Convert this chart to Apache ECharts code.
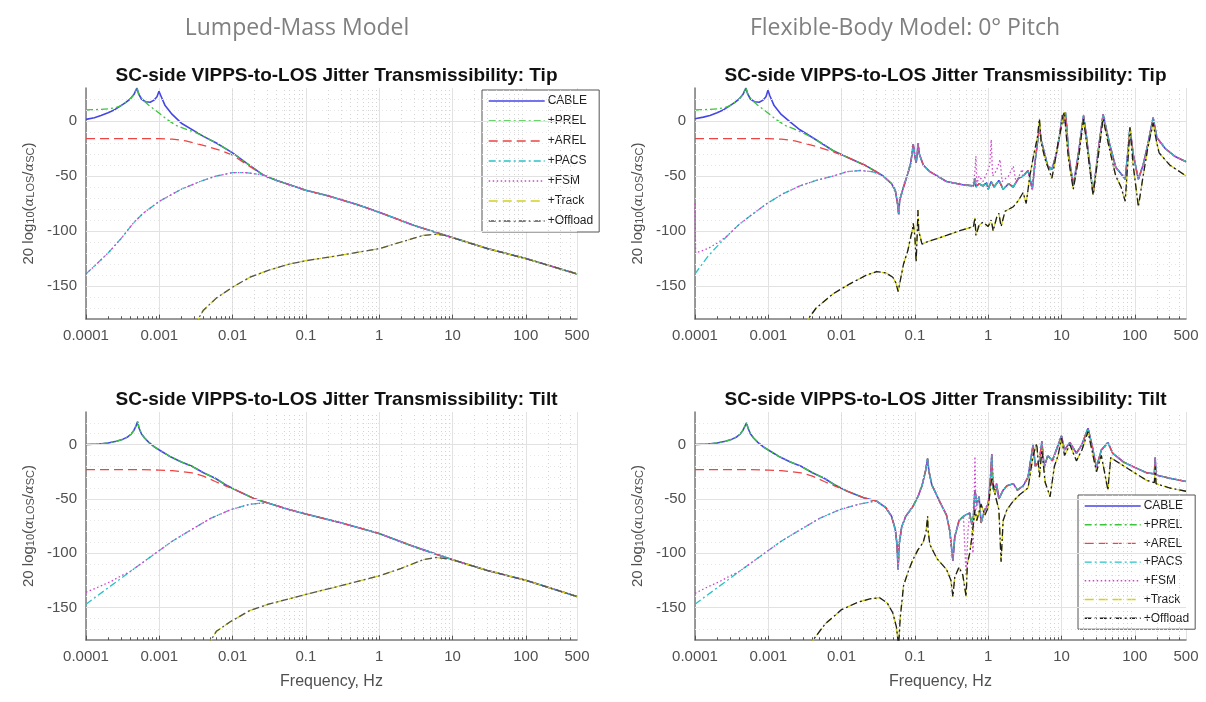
<!DOCTYPE html>
<html><head><meta charset="utf-8">
<script src="https://cdn.jsdelivr.net/npm/echarts@6/dist/echarts.min.js"></script>
<style>html,body{margin:0;padding:0;background:#fff}#c{width:1206px;height:702px}</style>
</head><body><div id="c"></div>
<script>
// ---------------- data (frequency Hz, dB) ----------------
const seriesNames = ['CABLE', '+PREL', '+AREL', '+PACS', '+FSM', '+Track', '+Offload'];
const yTicks = [-150, -100, -50, 0];
const xMin = 1e-4, xMax = 500, yMin = -180, yMax = 30;
const bigTitles = ['Lumped-Mass Model', 'Flexible-Body Model: 0\u00B0 Pitch'];
const plotTitles = ['SC-side VIPPS-to-LOS Jitter Transmissibility: Tip', 'SC-side VIPPS-to-LOS Jitter Transmissibility: Tip',
  'SC-side VIPPS-to-LOS Jitter Transmissibility: Tilt', 'SC-side VIPPS-to-LOS Jitter Transmissibility: Tilt'];

// Top-left: lumped-mass, tip
const tlCable = [[1e-4,1.5],[1.3e-4,3],[1.6e-4,5],[2e-4,7.5],[2.5e-4,10.5],[3e-4,14],[3.5e-4,17],[4e-4,20],[4.5e-4,24],[4.8e-4,28],[4.95e-4,30],[5.2e-4,25],[5.7e-4,20],[6.5e-4,17.5],[7.5e-4,17],[8.5e-4,19],[9.3e-4,22],[9.9e-4,27],[1.05e-3,23],[1.2e-3,14],[1.5e-3,6],[2e-3,-2],[3e-3,-9],[4e-3,-14],[6e-3,-20],[0.01,-29],[0.016,-39],[0.026,-49],[0.04,-54],[0.06,-58],[0.1,-63],[0.2,-68],[0.5,-76],[1,-83],[3,-95],[10,-106],[30,-116],[100,-125],[500,-139]];
const tlPrelLow = [[1e-4,10],[1.5e-4,10.5],[2e-4,11],[2.5e-4,12],[3e-4,14],[3.5e-4,17],[4e-4,20],[4.5e-4,24],[4.8e-4,28],[4.95e-4,30],[5.3e-4,24],[6e-4,19],[7e-4,15],[8e-4,12],[1e-3,7],[1.3e-3,1],[1.7e-3,-4],[2.2e-3,-7],[3e-3,-10],[4e-3,-14]];
const tlArelLow = [[1e-4,-16],[3e-4,-16],[1e-3,-16],[1.5e-3,-16.5],[2.3e-3,-18],[3e-3,-20],[4.4e-3,-23],[7e-3,-27],[0.01,-31],[0.016,-40]];
const tlPacsLow = [[1e-4,-139],[1.5e-4,-128],[2e-4,-120],[3e-4,-107],[4.4e-4,-93],[6e-4,-84],[1e-3,-73],[2e-3,-62],[3.6e-3,-55],[6e-3,-50],[0.01,-47],[0.015,-47],[0.02,-48]];
const tlLowerLow = [[3e-3,-186],[4e-3,-172],[6e-3,-161],[0.01,-151],[0.0173,-142],[0.03,-136],[0.06,-130],[0.1,-127],[0.3,-122],[1,-116],[2,-110],[4,-104],[6,-103],[8,-104]];

// Bottom-left: lumped-mass, tilt
const blCable = [[1e-4,0],[1.5e-4,0.5],[2e-4,1.5],[2.6e-4,3],[3.2e-4,5],[3.7e-4,7],[4.1e-4,9.5],[4.5e-4,13],[4.8e-4,17],[5.05e-4,21],[5.3e-4,15],[5.7e-4,10],[6.3e-4,6],[7.2e-4,2],[8.5e-4,-2],[1e-3,-5],[1.4e-3,-11],[2e-3,-16],[2.8e-3,-20],[4e-3,-26],[5.8e-3,-31],[8e-3,-37],[0.012,-43],[0.02,-50],[0.031,-54],[0.06,-60],[0.1,-64],[0.3,-72],[1,-82],[3,-94],[10,-106],[30,-116],[100,-125],[500,-140]];
const blArelLow = [[1e-4,-23],[5e-4,-23],[1e-3,-23.5],[1.5e-3,-24],[2.8e-3,-26],[4e-3,-29],[5.8e-3,-34],[8e-3,-38]];
const blPacsLow = [[1e-4,-147],[2e-4,-132],[4e-4,-117],[8.5e-4,-101],[1.5e-3,-89],[2.8e-3,-78],[5e-3,-68],[9.4e-3,-60],[0.017,-55],[0.024,-54]];
const blFsmLow = [[1e-4,-136],[1.5e-4,-131],[2.2e-4,-126],[3e-4,-121],[4e-4,-117]];
const blLowerLow = [[4.5e-3,-186],[6e-3,-172],[9.4e-3,-163],[0.017,-153],[0.031,-147],[0.1,-138],[0.3,-130],[1,-121],[2,-114],[4,-106],[6,-104],[8,-105]];

// Top-right: flexible body, tip
const trCableA = [[1e-4,2],[1.3e-4,3.5],[1.6e-4,5],[2e-4,7.5],[2.5e-4,10.5],[3e-4,14],[3.5e-4,17],[4e-4,20],[4.5e-4,24],[4.8e-4,28],[4.95e-4,30],[5.2e-4,25],[5.7e-4,20],[6.5e-4,17.5],[7.5e-4,17],[8.5e-4,19],[9.3e-4,22],[9.9e-4,28],[1.05e-3,23],[1.2e-3,14],[1.5e-3,6],[2e-3,-1],[2.7e-3,-8],[4e-3,-15],[7.7e-3,-27],[0.013,-34],[0.022,-41]];
const trPrelA = [[1e-4,10],[1.5e-4,10.5],[2e-4,11],[2.5e-4,12],[3e-4,14],[3.5e-4,17],[4e-4,20],[4.5e-4,24],[4.8e-4,28],[4.95e-4,30],[5.3e-4,24],[6e-4,19],[7e-4,15],[8e-4,12],[1e-3,7],[1.3e-3,1],[1.7e-3,-4],[2.2e-3,-7],[3e-3,-11],[4e-3,-15],[7.7e-3,-27],[0.013,-34],[0.022,-41]];
const trArelA = [[1e-4,-16],[1e-3,-16],[1.5e-3,-16.5],[2.3e-3,-18],[3e-3,-20],[4.4e-3,-23],[7.7e-3,-28],[0.013,-34],[0.022,-41]];
const trPacsA = [[1e-4,-139],[1.5e-4,-123],[2e-4,-114],[2.7e-4,-105],[4e-4,-94],[6e-4,-85],[9.6e-4,-75],[1.6e-3,-66],[2.7e-3,-59],[4.5e-3,-54],[7.7e-3,-50],[0.012,-46],[0.018,-45],[0.026,-46],[0.032,-48]];
const trFsmA = [[1e-4,-75],[1.02e-4,-120],[1.5e-4,-116],[2e-4,-111],[2.7e-4,-105]];
const trUpperB = [[0.037,-50],[0.048,-57],[0.054,-63],[0.058,-75],[0.06,-85],[0.062,-72],[0.07,-60],[0.08,-48],[0.088,-38],[0.095,-21],[0.1,-32],[0.104,-38],[0.108,-30],[0.11,-20],[0.115,-30],[0.13,-40],[0.16,-46],[0.27,-55],[0.45,-58]];
const trUpperC = [[0.63,-59],[0.66,-52],[0.68,-60],[0.75,-57],[0.85,-59],[0.95,-56],[1.0,-62],[1.1,-55],[1.2,-60],[1.4,-54],[1.6,-62],[1.9,-57],[2.2,-60],[2.6,-52]];
const trFsmC = [[0.63,-59],[0.66,-45],[0.68,-32],[0.7,-58],[0.75,-50],[0.85,-55],[0.95,-48],[1.05,-40],[1.1,-17],[1.15,-50],[1.3,-45],[1.45,-35],[1.55,-55],[1.9,-50],[2.2,-41],[2.4,-56],[2.9,-44]];
const trUpperD = [[3,-50],[3.5,-45],[4,-62],[4.4,-35],[4.8,-15],[5,-5],[5.3,-18],[5.8,-28],[6.5,-41],[7.4,-44],[8.5,-30],[9.5,-12],[10.2,5],[10.7,-2],[11.3,8],[11.8,-5],[12.5,-30],[14.5,-59],[17,-30],[20,5],[22,-15],[27,-67],[32,-25],[37,6],[45,-20],[55,-42],[65,-48],[74,-53],[80,-30],[86,-6],[95,-30],[112,-53],[130,-40],[150,-22],[178,3],[200,-15],[260,-25],[350,-32],[500,-37]];
const trLower = [[3e-3,-186],[4.5e-3,-170],[7.7e-3,-157],[0.013,-148],[0.022,-140],[0.03,-137],[0.04,-138],[0.05,-142],[0.055,-147],[0.059,-155],[0.062,-148],[0.07,-130],[0.08,-118],[0.086,-108],[0.092,-100],[0.095,-93],[0.1,-105],[0.104,-128],[0.108,-100],[0.11,-81],[0.113,-100],[0.125,-112],[0.145,-110],[0.2,-107],[0.27,-104],[0.4,-100],[0.63,-96],[0.66,-88],[0.68,-104],[0.75,-95],[0.85,-92],[1.0,-96],[1.1,-90],[1.17,-100],[1.3,-88],[1.4,-84],[1.5,-96],[1.7,-82],[2.2,-78],[2.6,-72],[3,-65],[3.3,-75],[3.7,-50],[4.2,-30],[4.7,-15],[5,2],[5.3,-20],[6,-35],[7.4,-52],[8,-40],[9,-20],[10,-5],[10.5,5],[11,8],[11.5,-10],[12.5,-35],[14.5,-62],[17,-35],[20,2],[22,-20],[27,-67],[32,-30],[37,2],[45,-25],[55,-50],[65,-60],[74,-73],[80,-40],[86,-6],[95,-40],[112,-78],[130,-50],[150,-25],[178,-2],[200,-20],[215,-29],[300,-40],[500,-50]];

// Bottom-right: flexible body, tilt
const brCableA = [[1e-4,0],[1.5e-4,0.5],[2e-4,1.5],[2.6e-4,3],[3.2e-4,5],[3.7e-4,7],[4.1e-4,9.5],[4.5e-4,13],[4.8e-4,17],[5.05e-4,20],[5.3e-4,15],[5.7e-4,10],[6.3e-4,6],[7.2e-4,2],[8.5e-4,-2],[1e-3,-5],[1.4e-3,-11],[2e-3,-16],[2.8e-3,-20],[4e-3,-26],[5.8e-3,-31],[8e-3,-37],[0.012,-43],[0.02,-49]];
const brArelA = [[1e-4,-23],[5e-4,-23],[1e-3,-23.5],[1.5e-3,-24],[2.8e-3,-26],[4e-3,-29],[5.8e-3,-34],[8e-3,-38],[0.012,-43],[0.02,-49]];
const brPacsA = [[1e-4,-147],[2e-4,-132],[4e-4,-117],[8.5e-4,-101],[1.5e-3,-89],[2.8e-3,-78],[5e-3,-68],[9.4e-3,-60],[0.017,-55],[0.024,-53]];
const brFsmA = [[1e-4,-137],[1.5e-4,-131],[2.2e-4,-126],[3e-4,-121],[4e-4,-117]];
const brUpperB = [[0.03,-52],[0.04,-58],[0.048,-66],[0.054,-78],[0.057,-92],[0.059,-115],[0.061,-92],[0.066,-76],[0.075,-66],[0.094,-57],[0.11,-48],[0.125,-38],[0.14,-24],[0.149,-13],[0.155,-24],[0.17,-37],[0.22,-53],[0.27,-65],[0.3,-80],[0.33,-107],[0.35,-85],[0.4,-70],[0.46,-66],[0.56,-63]];
const brUpperC = [[0.6,-74],[0.63,-65],[0.66,-42],[0.7,-55],[0.75,-48],[0.8,-72],[0.9,-60],[1.0,-55],[1.08,-30],[1.12,-9],[1.16,-40],[1.25,-45],[1.3,-36],[1.4,-50],[1.6,-42],[1.8,-38],[2.2,-36],[2.5,-42],[3,-38]];
const brFsmC = [[0.46,-66],[0.5,-121],[0.53,-80],[0.56,-63],[0.6,-74],[0.62,-100],[0.64,-60],[0.66,-11],[0.68,-60],[0.75,-48],[0.8,-70],[0.9,-60],[1.0,-55],[1.12,-9],[1.2,-40],[1.3,-36],[1.4,-50],[1.6,-42],[1.8,-38],[2.2,-36],[2.5,-42],[3,-38]];
const brUpperD = [[3.5,-30],[4.1,0],[4.4,-20],[5,-15],[5.4,3],[5.8,-21],[6.5,-10],[7.5,-15],[8.5,-5],[10,8],[11,-5],[13,2],[16,-8],[19,0],[23,15],[26,0],[30,-21],[35,-5],[43,2],[50,-8],[70,-16],[100,-21],[145,-26],[185,-27],[190,-12],[195,-28],[300,-31],[500,-34]];
const brLower = [[3.5e-3,-186],[6e-3,-165],[0.01,-152],[0.017,-145],[0.025,-142],[0.033,-141],[0.042,-146],[0.05,-155],[0.056,-168],[0.06,-186],[0.063,-160],[0.07,-130],[0.08,-118],[0.094,-106],[0.11,-97],[0.13,-90],[0.142,-80],[0.149,-66],[0.152,-80],[0.16,-92],[0.2,-105],[0.27,-115],[0.31,-125],[0.33,-140],[0.35,-122],[0.4,-113],[0.45,-120],[0.5,-140],[0.52,-110],[0.56,-100],[0.6,-85],[0.66,-60],[0.7,-70],[0.8,-55],[0.9,-65],[1.0,-58],[1.12,-30],[1.25,-47],[1.4,-60],[1.5,-108],[1.6,-70],[1.8,-60],[2.2,-52],[2.7,-46],[3.5,-40],[4.1,-10],[4.6,1],[5,-30],[5.4,-5],[6,-35],[7,-48],[8,-20],[9,-10],[10,6],[11,-10],[13,0],[16,-15],[19,-5],[23,12],[26,-5],[30,-25],[35,-10],[43,-42],[47,-12],[55,-15],[80,-22],[145,-33],[185,-35],[190,-20],[195,-36],[300,-40],[500,-43]];

// ---------------- assemble ----------------
const after = (arr, f) => arr.filter(p => p[0] > f);
const before = (arr, f) => arr.filter(p => p[0] < f);

const plots = [
  { // TL
    cable: tlCable,
    prel: tlPrelLow.concat(after(tlCable, 4e-3)),
    arel: tlArelLow.concat(after(tlCable, 0.02)),
    pacs: tlPacsLow.concat(after(tlCable, 0.02)),
    fsm: tlPacsLow.concat(after(tlCable, 0.02)),
    track: tlLowerLow.concat(after(tlCable, 9)),
    offload: tlLowerLow.concat(after(tlCable, 9))
  },
  { // TR
    cable: [].concat(trCableA, trUpperB, trUpperC, trUpperD),
    prel: [].concat(trPrelA, trUpperB, trUpperC, trUpperD),
    arel: [].concat(trArelA, trUpperB, trUpperC, trUpperD),
    pacs: [].concat(trPacsA, trUpperB, trUpperC, trUpperD),
    fsm: [].concat(trFsmA, after(trPacsA, 2.7e-4), trUpperB, trFsmC, trUpperD),
    track: trLower,
    offload: trLower
  },
  { // BL
    cable: blCable,
    prel: blCable,
    arel: blArelLow.concat(after(blCable, 0.01)),
    pacs: blPacsLow.concat(after(blCable, 0.025)),
    fsm: blFsmLow.concat(after(blPacsLow, 4e-4), after(blCable, 0.025)),
    track: blLowerLow.concat(after(blCable, 9)),
    offload: blLowerLow.concat(after(blCable, 9))
  },
  { // BR
    cable: [].concat(brCableA, brUpperB, brUpperC, brUpperD),
    prel: [].concat(brCableA, brUpperB, brUpperC, brUpperD),
    arel: [].concat(brArelA, brUpperB, brUpperC, brUpperD),
    pacs: [].concat(brPacsA, brUpperB, brUpperC, brUpperD),
    fsm: [].concat(brFsmA, after(brPacsA, 4e-4), before(brUpperB, 0.46), brFsmC, brUpperD),
    track: brLower,
    offload: brLower
  }
];

// ---------------- layout / style ----------------
const grids = [
  { left: 86, top: 88, width: 491, height: 231 },
  { left: 695, top: 88, width: 491, height: 231 },
  { left: 86, top: 412, width: 491, height: 228 },
  { left: 695, top: 412, width: 491, height: 228 }
];
const DD = [7, 3, 2, 3];
const styles = [
  { color: '#4646e6', width: 1.6, type: 'solid' },
  { color: '#3cc43c', width: 1.3, type: DD },
  { color: '#ee4444', width: 1.3, type: [9, 5] },
  { color: '#2ac2c8', width: 1.3, type: DD },
  { color: '#cc44cc', width: 1.3, type: [1.5, 2.5] },
  { color: '#d2d21e', width: 1.3, type: [9, 5] },
  { color: '#555555', width: 1.3, type: DD }
];
const keys = ['cable', 'prel', 'arel', 'pacs', 'fsm', 'track', 'offload'];

const decadesF = [1e-4, 1e-3, 0.01, 0.1, 1, 10, 100];
const minorF = [];
decadesF.forEach(d => { for (let m = 2; m <= 9; m++) { const f = +(m * d).toPrecision(2); if (f < xMax) minorF.push(f); } });
const minorY = [];
for (let v = yMin + 10; v < yMax; v += 10) if (!yTicks.includes(v)) minorY.push(v);

const fontF = '"Liberation Sans", Arial, sans-serif';
const xAxes = [], yAxes = [], series = [], titles = [];
grids.forEach((g, i) => {
  xAxes.push({
    type: 'log', logBase: 10, gridIndex: i, min: xMin, max: xMax,
    axisLine: { show: true, onZero: false, lineStyle: { color: '#7a7a7a', width: 1.5 } },
    axisTick: { show: false },
    axisLabel: { color: '#505050', fontSize: 15, fontFamily: fontF, margin: 9,
      formatter: v => String(+(+v).toPrecision(3)) },
    splitLine: { show: true, lineStyle: { color: '#e2e2e2', width: 1 } },
    name: i >= 2 ? 'Frequency, Hz' : '', nameLocation: 'middle', nameGap: 34,
    nameTextStyle: { color: '#505050', fontSize: 16, fontFamily: fontF }
  });
  yAxes.push({
    type: 'value', gridIndex: i, min: yMin, max: yMax, interval: 10,
    axisLine: { show: true, onZero: false, lineStyle: { color: '#7a7a7a', width: 1.5 } },
    axisTick: { show: false },
    axisLabel: { color: '#505050', fontSize: 15, fontFamily: fontF, margin: 9,
      formatter: v => yTicks.includes(v) ? String(v) : '' },
    splitLine: { show: false },
    name: '{n|20 log}{s|10}{n|(}{a|\u03B1}{s|LOS}{n|/}{a|\u03B1}{s|SC}{n|)}',
    nameLocation: 'middle', nameGap: 50, nameRotate: 90,
    nameTextStyle: { color: '#505050', fontFamily: fontF,
      rich: {
        n: { fontSize: 15, color: '#505050', fontFamily: fontF, verticalAlign: 'bottom', lineHeight: 19 },
        s: { fontSize: 11, color: '#505050', fontFamily: fontF, verticalAlign: 'bottom', lineHeight: 12 },
        a: { fontSize: 13, color: '#505050', fontStyle: 'italic', fontFamily: 'DejaVu Serif', verticalAlign: 'bottom', lineHeight: 17 }
      } }
  });
  // grid-line and minor-tick holder series
  const tickMarks = decadesF.concat(minorF).map(f => [
    { coord: [f, yMin], lineStyle: { color: '#555', width: 1, type: 'solid' } },
    { coord: [f, yMin + (decadesF.includes(f) ? 4 : 2.5)] }
  ]);
  series.push({
    type: 'line', name: '_grid' + i, xAxisIndex: i, yAxisIndex: i, data: [], z: 1, silent: true,
    markLine: { silent: true, symbol: 'none', animation: false, label: { show: false },
      data: minorF.map(f => ({ xAxis: f, lineStyle: { color: '#d4d4d4', width: 1, type: [1, 3] } }))
        .concat(minorY.map(v => ({ yAxis: v, lineStyle: { color: '#e6e6e6', width: 1, type: [1, 3] } })))
        .concat(yTicks.map(v => ({ yAxis: v, lineStyle: { color: '#e2e2e2', width: 1, type: 'solid' } })))
        .concat(tickMarks) }
  });
  keys.forEach((k, j) => {
    const st = Object.assign({}, styles[j]);
    if (j === 6 && (i === 1 || i === 3)) st.color = '#1e1e1e';
    series.push({
      type: 'line', name: seriesNames[j], xAxisIndex: i, yAxisIndex: i,
      data: plots[i][k], symbol: 'none', showSymbol: false, clip: true, silent: true,
      lineStyle: st, itemStyle: { color: st.color }, z: 2 + j
    });
  });
  titles.push({
    text: plotTitles[i], left: g.left + g.width / 2, top: g.top - 27, textAlign: 'center',
    textStyle: { fontFamily: fontF, fontSize: 19, fontWeight: 'bold', color: '#111' }
  });
});
titles.push({ text: bigTitles[0], left: 292, top: 12, textAlign: 'center',
  textStyle: { fontFamily: '"Open Sans", sans-serif', fontSize: 23, fontWeight: 'normal', color: '#808080' } });
titles.push({ text: bigTitles[1], left: 900, top: 12, textAlign: 'center',
  textStyle: { fontFamily: '"Open Sans", sans-serif', fontSize: 23, fontWeight: 'normal', color: '#808080' } });

const legendData = (dark) => seriesNames.map((n, j) => ({
  name: n,
  itemStyle: { opacity: 0, borderWidth: 0 },
  lineStyle: Object.assign({}, styles[j], { width: 1.4 }, (j === 6 && dark) ? { color: '#1e1e1e' } : {})
}));
const mkLegend = (left, top, itemWidth, itemGap, dark) => ({
  show: true, orient: 'vertical', left: left, top: top,
  backgroundColor: '#fff', borderColor: '#555', borderWidth: 1,
  itemWidth: itemWidth, itemHeight: 12, itemGap: itemGap, padding: [5, 6, 5, 6],
  itemStyle: { opacity: 0, borderWidth: 0 },
  textStyle: { fontSize: 12, color: '#222', fontFamily: fontF, padding: [0, 0, 0, -2] },
  selectedMode: false, data: legendData(dark)
});

const option = {
  animation: false,
  backgroundColor: '#fff',
  title: titles,
  grid: grids,
  xAxis: xAxes,
  yAxis: yAxes,
  legend: [mkLegend(482, 90, 56, 8, false), mkLegend(1078, 495, 56, 6.7, true)],
  series: series
};
const chart = echarts.init(document.getElementById('c'), null, { renderer: 'canvas' });
chart.setOption(option);
</script></body></html>
